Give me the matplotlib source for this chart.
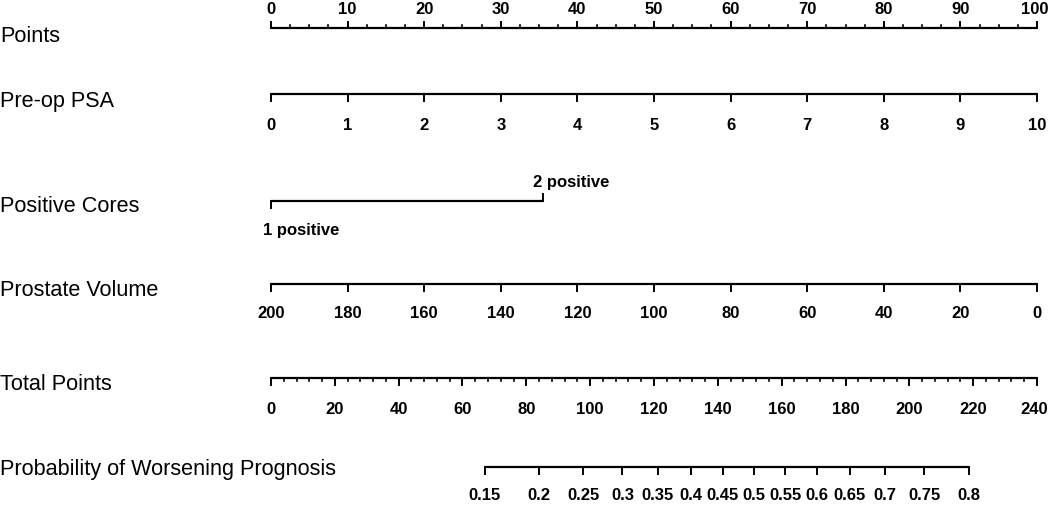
import numpy as np
import matplotlib

matplotlib.use("Agg")
import matplotlib.pyplot as plt


# Номограмма: ухудшение прогноза по PSA, числу положительных биоптатов и объему простаты.

# Шкала баллов
points_ticks = np.arange(0, 101, 10)
points_minor = np.arange(0, 100.1, 2.5)

# Pre-op PSA: 0..10 -> 0..100 баллов
psa_ticks = np.arange(0, 11, 1)

# Positive Cores
cores_labels = ["1 positive", "2 positive"]
cores_points = [0.0, 35.5]

# Prostate Volume: 200 -> 0 баллов, 0 -> 100 баллов
volume_ticks = np.arange(200, -1, -20)

# Total Points
total_ticks = np.arange(0, 241, 20)
total_minor = np.arange(0, 241, 4)

# Probability of Worsening Prognosis
prob_ticks = [0.15, 0.2, 0.25, 0.3, 0.35, 0.4, 0.45, 0.5, 0.55, 0.6, 0.65, 0.7, 0.75, 0.8]
prob_labels = ["0.15", "0.2", "0.25", "0.3", "0.35", "0.4", "0.45", "0.5",
               "0.55", "0.6", "0.65", "0.7", "0.75", "0.8"]
PROB_MID = 151.3     # сумма баллов при p = 0.5
PROB_SCALE = 48.6    # баллов на единицу логита

TITLE_FONT = dict(family=["Liberation Sans", "DejaVu Sans"], fontsize=15.6)
TICK_FONT = dict(family=["Liberation Sans", "DejaVu Sans"], fontsize=12, fontweight="bold")
LW = 1.6


def psa_to_pts(v):
    return np.asarray(v, dtype=float) * 10


def volume_to_pts(v):
    return (200 - np.asarray(v, dtype=float)) / 2


def total_to_pts(v):
    return np.asarray(v, dtype=float) * 100 / 240


def prob_to_pts(p):
    p = np.asarray(p, dtype=float)
    return total_to_pts(PROB_MID + PROB_SCALE * np.log(p / (1 - p)))


def draw_scale(ax, x, y, ticks_len, labels=None, label_dy=0, minor=None, minor_len=0):
    """Линия шкалы с засечками; y растет вниз (пиксели)."""
    x = np.asarray(x, dtype=float)
    ax.plot([x.min(), x.max()], [y, y], color="black", lw=LW, solid_capstyle="butt")
    if minor is not None:
        for xm in minor:
            ax.plot([xm, xm], [y, y + minor_len], color="black", lw=1.2)
    for xi in x:
        ax.plot([xi, xi], [y, y + ticks_len], color="black", lw=1.4)
    if labels is not None:
        for xi, lab in zip(x, labels):
            # подпись у правого края чуть сдвигаем внутрь, чтобы не обрезалась
            if xi >= 99.9 and len(lab) >= 3:
                xi = xi - 0.35
            ax.text(xi, y + label_dy, lab, ha="center", va="center", **TICK_FONT)


def main():
    fig = plt.figure(figsize=(10.5, 5.05), dpi=100)
    ax = fig.add_axes([0, 0, 1, 1])
    # по x — баллы (0 -> 271 px, 100 -> 1037 px), по y — пиксели сверху вниз
    px_per_pt = (1037 - 271) / 100
    ax.set_xlim(-271 / px_per_pt, (1050 - 271) / px_per_pt)
    ax.set_ylim(505, 0)
    ax.axis("off")

    x_title = -271 / px_per_pt + 0.05

    # Points
    ax.text(x_title, 37, "Points", ha="left", va="center", **TITLE_FONT)
    draw_scale(ax, points_ticks, 28, -6, [str(t) for t in points_ticks], -19,
               minor=points_minor, minor_len=-3)

    # Pre-op PSA
    ax.text(x_title, 101, "Pre-op PSA", ha="left", va="center", **TITLE_FONT)
    draw_scale(ax, psa_to_pts(psa_ticks), 94, 7, [str(t) for t in psa_ticks], 31)

    # Positive Cores
    ax.text(x_title, 207, "Positive Cores", ha="left", va="center", **TITLE_FONT)
    y_c = 201
    ax.plot(cores_points, [y_c, y_c], color="black", lw=LW, solid_capstyle="butt")
    ax.plot([cores_points[0]] * 2, [y_c, y_c + 7], color="black", lw=1.4)
    ax.plot([cores_points[1]] * 2, [y_c, y_c - 7], color="black", lw=1.4)
    ax.text(cores_points[0] - 1.1, y_c + 30, cores_labels[0], ha="left", va="center", **TICK_FONT)
    ax.text(cores_points[1] - 1.3, y_c - 18, cores_labels[1], ha="left", va="center", **TICK_FONT)

    # Prostate Volume
    ax.text(x_title, 290, "Prostate Volume", ha="left", va="center", **TITLE_FONT)
    draw_scale(ax, volume_to_pts(volume_ticks), 284, 7, [str(t) for t in volume_ticks], 29)

    # Total Points
    ax.text(x_title, 384, "Total Points", ha="left", va="center", **TITLE_FONT)
    draw_scale(ax, total_to_pts(total_ticks), 378, 7, [str(t) for t in total_ticks], 31,
               minor=total_to_pts(total_minor), minor_len=3)

    # Probability
    ax.text(x_title, 470, "Probability of Worsening Prognosis", ha="left", va="center", **TITLE_FONT)
    draw_scale(ax, prob_to_pts(prob_ticks), 467, 7, prob_labels, 28)

    fig.savefig("out.png", dpi=100)
    plt.close(fig)


if __name__ == "__main__":
    main()
